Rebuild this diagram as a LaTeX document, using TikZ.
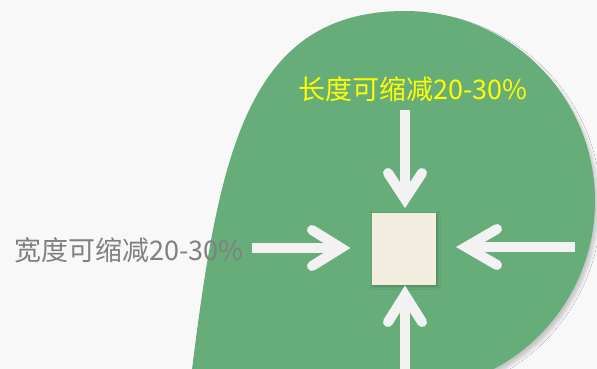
\documentclass[tikz,border=0pt]{standalone}
\usepackage{fontspec}
\newfontfamily\cjk{Noto Sans CJK SC}
\usetikzlibrary{shadows.blur}
\definecolor{bg}{HTML}{F8F8F8}
\definecolor{leaf}{RGB}{103,173,121}
\definecolor{sq}{HTML}{F3EDE0}
\definecolor{arr}{HTML}{F2F2F2}
\definecolor{txtgray}{RGB}{128,128,128}
\definecolor{txtyellow}{RGB}{255,255,0}
\begin{document}
\begin{tikzpicture}[x=1pt,y=-1pt,
  arrowshaft/.style={draw=arr,line width=10pt,line cap=butt},
  arrowhead/.style={draw=arr,line width=10pt,line cap=round,line join=miter},
  label/.style={font=\cjk\fontsize{27}{30}\selectfont,inner sep=0pt}]
\fill[bg] (0,0) rectangle (597,369);
\useasboundingbox (0,0) rectangle (597,369);
\coordinate (tip) at (168,560);
\fill[leaf, blur shadow={shadow xshift=3pt, shadow yshift=-4pt, shadow blur steps=8, shadow blur radius=3pt, shadow opacity=20}]
  (tip) .. controls (213,240) and (205,11) .. (405,11)
  arc[start angle=270,end angle=430,radius=190]
  .. controls (394,405) and (225,560) .. (tip) -- cycle;
\node[fill=sq, minimum width=64pt, minimum height=72pt, inner sep=0pt,
  blur shadow={shadow xshift=1pt, shadow yshift=-1pt, shadow blur steps=6, shadow blur radius=3pt, shadow opacity=25}] (box) at (404,249) {};
% top arrow
\coordinate (ts) at (405,110); \coordinate (tv) at (405,199);
\coordinate (ta) at (388,173); \coordinate (tb) at (422,173);
\draw[arrowshaft] (ts) -- (tv);
\draw[arrowhead] (ta) -- (tv) -- (tb);
% bottom arrow
\coordinate (bs) at (405,375); \coordinate (bv) at (405,295);
\coordinate (ba) at (388,322); \coordinate (bb) at (422,322);
\draw[arrowshaft] (bs) -- (bv);
\draw[arrowhead] (ba) -- (bv) -- (bb);
% left arrow (pointing right)
\coordinate (ls) at (252,248); \coordinate (lv) at (341,248);
\coordinate (la) at (312,230); \coordinate (lb) at (312,266);
\draw[arrowshaft] (ls) -- (lv);
\draw[arrowhead] (la) -- (lv) -- (lb);
% right arrow (pointing left)
\coordinate (rs) at (575,247); \coordinate (rv) at (466,247);
\coordinate (ra) at (497,229); \coordinate (rb) at (497,265);
\draw[arrowshaft] (rs) -- (rv);
\draw[arrowhead] (ra) -- (rv) -- (rb);
\node[label, text=txtyellow] (lenlbl) at (413,89) {长度可缩减20-30\%};
\node[label, text=txtgray] (widlbl) at (129,250) {宽度可缩减20-30\%};
\end{tikzpicture}
\end{document}
